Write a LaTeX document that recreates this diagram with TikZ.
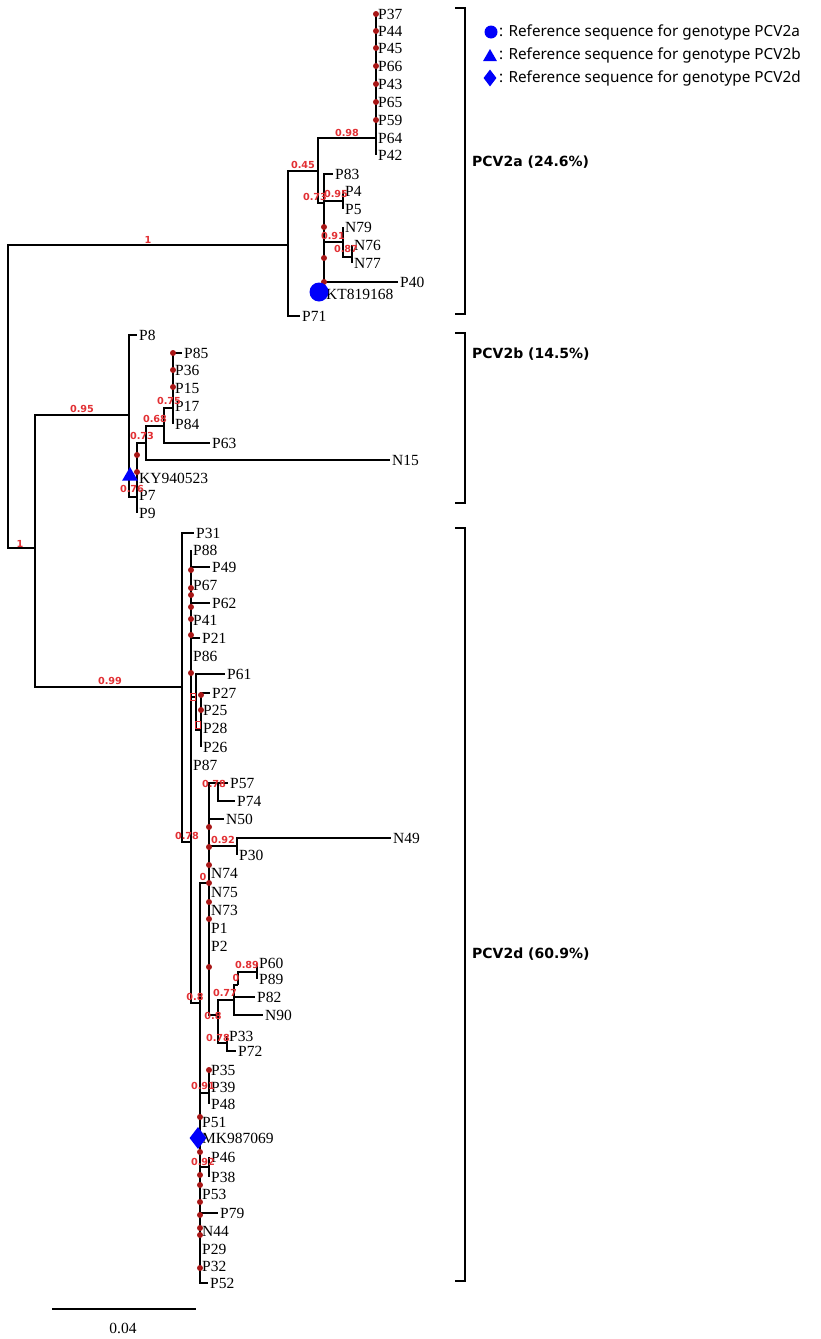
\documentclass[tikz,border=0pt]{standalone}
\usepackage{fontspec}
\setmainfont{Liberation Serif}
\newfontfamily\bsfont{DejaVu Sans}
\newfontfamily\lgfont{Noto Sans}
\usetikzlibrary{shapes.geometric}
\definecolor{bsred}{RGB}{226,48,52}
\definecolor{dotred}{RGB}{168,22,22}
\definecolor{refblue}{RGB}{0,0,250}

\begin{document}
\begin{tikzpicture}[x=1pt,y=-1pt,
 br/.style={line width=1.9pt},
 leaf/.style={anchor=west,inner sep=2pt,font=\fontsize{15.5}{16}\selectfont},
 bs/.style={text=bsred,inner sep=0pt,font=\bsfont\bfseries\fontsize{9.7}{10}\selectfont},
 clade/.style={anchor=west,inner sep=0pt,font=\bsfont\bfseries\fontsize{14}{16}\selectfont},
 lgtext/.style={anchor=west,inner sep=0pt,font=\lgfont\fontsize{15.3}{17}\selectfont}]
\useasboundingbox (0,0) rectangle (821,1339);

\coordinate (r) at (8,396);
\coordinate (a) at (288,245);
\coordinate (a45) at (318,171);
\coordinate (a98) at (376,138);
\coordinate (a73) at (324,203);
\coordinate (a95) at (343,201);
\coordinate (a91) at (343,242);
\coordinate (a87) at (352,257);
\coordinate (bd) at (35,548);
\coordinate (b) at (129,415);
\coordinate (b76) at (137,497);
\coordinate (b73) at (146,443);
\coordinate (b68) at (164,426);
\coordinate (b75) at (173,408);
\coordinate (d) at (182,687);
\coordinate (d78) at (191,842);
\coordinate (dA) at (196,697);
\coordinate (dB) at (201,730);
\coordinate (d8) at (200,1003);
\coordinate (d0) at (209,883);
\coordinate (d78c) at (218,783);
\coordinate (d92b) at (237,846);
\coordinate (d8b) at (218,1015);
\coordinate (d77) at (234,1000);
\coordinate (d0b) at (238,985);
\coordinate (d89) at (257,972);
\coordinate (d78d) at (227,1043);
\coordinate (d91) at (209,1093);
\coordinate (d92) at (209,1167);

\foreach \p/\c in {r/a,r/bd,a/a45,a45/a98,a45/a73,a73/a95,a73/a91,a91/a87,
 bd/b,bd/d,b/b76,b76/b73,b73/b68,b68/b75,d/d78,d78/dA,dA/dB,d78/d8,d8/d0,
 d0/d78c,d0/d92b,d0/d8b,d8b/d77,d77/d0b,d0b/d89,d8b/d78d,d8/d91,d8/d92}
 \draw[br] (\p) |- (\c);

\foreach \p/\n/\x/\y in {a/P71/300/316,
 a98/P37/376/14,a98/P44/376/31,a98/P45/376/48,a98/P66/376/66,a98/P43/376/84,
 a98/P65/376/102,a98/P59/376/120,a98/P64/376/138,a98/P42/376/155,
 a73/P83/333/174,a73/P40/398/282,a73/KT819168/324/294,
 a95/P4/343/191,a95/P5/343/209,a91/N79/343/227,a87/N76/352/245,a87/N77/352/263,
 b/P8/137/335,b76/KY940523/137/478,b76/P7/137/495,b76/P9/137/513,
 b73/N15/390/460,b68/P63/210/443,
 b75/P85/182/353,b75/P36/173/370,b75/P15/173/388,b75/P17/173/406,b75/P84/173/424,
 d/P31/194/533,
 d78/P88/191/550,d78/P49/210/567,d78/P67/191/585,d78/P62/210/603,d78/P41/191/620,
 d78/P21/200/638,d78/P86/191/656,d78/P87/191/765,
 dA/P61/225/674,dB/P27/210/693,dB/P25/201/710,dB/P28/201/728,dB/P26/201/747,
 d78c/P57/228/783,d78c/P74/235/801,
 d0/N50/224/819,d0/N74/209/873,d0/N75/209/892,d0/N73/209/910,d0/P1/209/928,d0/P2/209/946,
 d92b/N49/391/838,d92b/P30/237/855,
 d77/P82/255/997,d77/N90/263/1015,d89/P60/257/963,d89/P89/257/979,
 d78d/P33/227/1036,d78d/P72/236/1051,
 d91/P35/209/1070,d91/P39/209/1087,d91/P48/209/1104,
 d8/P51/200/1122,d8/MK987069/200/1138,d8/P53/200/1194,d8/P79/218/1213,
 d8/N44/200/1231,d8/P29/200/1249,d8/P32/200/1266,d8/P52/208/1283,
 d92/P46/209/1157,d92/P38/209/1177}
 {\node[leaf] (\n) at (\x,\y) {\n};
 \draw[br] (\p) |- (\n.west);}

\foreach \x/\y in {376/14,376/31,376/48,376/66,376/84,376/102,376/120,
 324/227,324/258,324/282,173/353,173/370,173/387,137/455,137/472,
 191/570,191/588,191/595,191/607,191/619,191/635,191/673,201/695,201/710,
 209/827,209/847,209/865,209/883,209/902,209/919,209/967,209/1070,
 200/1117,200/1152,200/1175,200/1185,200/1202,200/1215,200/1228,200/1235,200/1268}
 \fill[dotred] (\x,\y) circle (3);
\draw[bsred,line width=0.9pt] (190.5,693.5) rectangle (195.5,700.5);
\draw[bsred,line width=0.9pt] (195.5,721.5) rectangle (200.5,728.5);

\foreach \t/\x/\y [count=\i] in {1/148/240,0.45/303/165,0.98/347/133,0.73/315/197,
 0.95/336/194,0.91/333/236,0.87/346/249,1/20/544,0.95/82/409,0.73/142/436,
 0.68/155/419,0.75/169/401,0.76/132/489,0.99/110/681,0.78/187/836,0.78/214/784,
 0.92/223/840,0/203/877,0.8/195/997,0.8/213/1016,0.77/225/993,0/236/978,
 0.89/247/965,0.78/218/1038,0.91/203/1086,0.92/203/1162}
 \node[bs] (bs\i) at (\x,\y) {\t};

\node[circle,fill=refblue,inner sep=0pt,minimum size=19pt] (refa) at (319,292) {};
\node[regular polygon,regular polygon sides=3,fill=refblue,inner sep=0pt,minimum size=18pt] (refb) at (130,476) {};
\node[diamond,fill=refblue,inner sep=0pt,minimum width=17pt,minimum height=22pt] (refd) at (198,1138) {};

\draw[line width=1.6pt] (455,8) -- (465,8) -- (465,314) -- (455,314);
\draw[line width=1.6pt] (455,333) -- (465,333) -- (465,503) -- (455,503);
\draw[line width=1.6pt] (455,528) -- (465,528) -- (465,1281) -- (455,1281);
\node[clade] (ca) at (472,162) {PCV2a (24.6\%)};
\node[clade] (cb) at (472,354) {PCV2b (14.5\%)};
\node[clade] (cd) at (472,954) {PCV2d (60.9\%)};

\node[circle,fill=refblue,inner sep=0pt,minimum size=13pt] (ka) at (491,32) {};
\node[regular polygon,regular polygon sides=3,fill=refblue,inner sep=0pt,minimum size=16pt] (kb) at (490,57) {};
\node[diamond,fill=refblue,inner sep=0pt,minimum width=13pt,minimum height=17pt] (kd) at (490,78) {};
\node[lgtext] (ta) at (499,32) {: Reference sequence for genotype PCV2a};
\node[lgtext] (tb) at (499,55) {: Reference sequence for genotype PCV2b};
\node[lgtext] (td) at (499,78) {: Reference sequence for genotype PCV2d};

\coordinate (s1) at (52,1309);
\coordinate (s2) at (196,1309);
\draw[line width=1.3pt] (s1) -- (s2);
\node[font=\fontsize{15.5}{16}\selectfont] (sl) at (123,1328) {0.04};
\end{tikzpicture}
\end{document}
